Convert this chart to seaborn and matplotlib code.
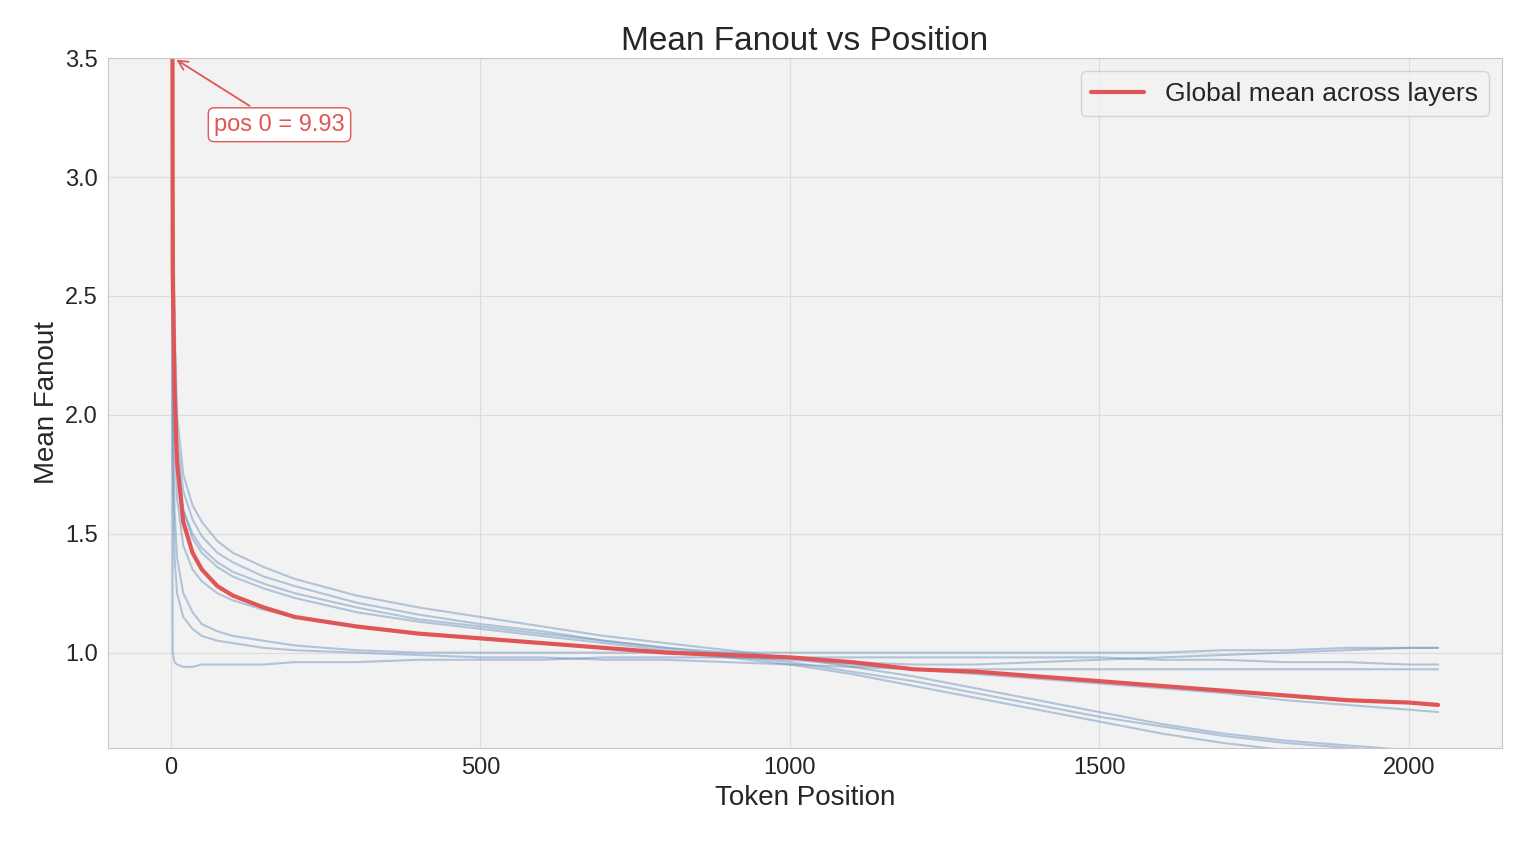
import numpy as np
import matplotlib.pyplot as plt
import seaborn as sns

# values at sample positions
positions = [0, 3, 6, 10, 20, 35, 50, 75, 100, 150, 200, 300, 400, 500, 600, 700, 800, 900,
             1000, 1100, 1200, 1300, 1400, 1500, 1600, 1700, 1800, 1900, 2000, 2047]

global_mean = [9.93, 2.6, 2.1, 1.8, 1.55, 1.42, 1.35, 1.28, 1.24, 1.19, 1.15, 1.11, 1.08, 1.06,
               1.04, 1.02, 1.00, 0.99, 0.98, 0.96, 0.93, 0.92, 0.90, 0.88, 0.86, 0.84, 0.82,
               0.80, 0.79, 0.78]

layer_values = {
    "L0": [9.0, 1.0, 0.96, 0.95, 0.94, 0.94, 0.95, 0.95, 0.95, 0.95, 0.96, 0.96, 0.97, 0.97,
           0.97, 0.98, 0.98, 0.98, 0.98, 0.98, 0.98, 0.98, 0.98, 0.98, 0.97, 0.97, 0.96,
           0.96, 0.95, 0.95],
    "L1": [10.0, 2.0, 1.6, 1.4, 1.25, 1.17, 1.12, 1.09, 1.07, 1.05, 1.03, 1.01, 1.00, 1.00,
           1.00, 1.00, 1.00, 1.00, 1.00, 1.00, 1.00, 1.00, 1.00, 1.00, 1.00, 1.01, 1.01,
           1.02, 1.02, 1.02],
    "L2": [10.0, 3.2, 2.4, 2.0, 1.75, 1.62, 1.55, 1.47, 1.42, 1.36, 1.31, 1.24, 1.19, 1.15,
           1.11, 1.07, 1.04, 1.01, 0.98, 0.94, 0.90, 0.85, 0.80, 0.75, 0.70, 0.66, 0.63,
           0.61, 0.59, 0.58],
    "L3": [10.0, 3.0, 2.3, 1.9, 1.68, 1.56, 1.49, 1.42, 1.38, 1.32, 1.28, 1.21, 1.16, 1.12,
           1.09, 1.05, 1.02, 0.99, 0.96, 0.92, 0.88, 0.83, 0.78, 0.73, 0.69, 0.65, 0.62,
           0.60, 0.58, 0.57],
    "L4": [10.0, 2.7, 2.1, 1.8, 1.6, 1.5, 1.44, 1.38, 1.34, 1.29, 1.25, 1.19, 1.14, 1.11,
           1.08, 1.05, 1.02, 1.00, 0.98, 0.96, 0.95, 0.95, 0.96, 0.97, 0.98, 0.99, 1.00,
           1.01, 1.02, 1.02],
    "L5": [10.0, 2.5, 1.9, 1.65, 1.45, 1.35, 1.3, 1.25, 1.22, 1.18, 1.15, 1.11, 1.08, 1.06,
           1.04, 1.02, 1.00, 0.98, 0.97, 0.95, 0.93, 0.91, 0.89, 0.87, 0.85, 0.83, 0.80,
           0.78, 0.76, 0.75],
    "L6": [10.0, 1.8, 1.4, 1.25, 1.15, 1.1, 1.07, 1.05, 1.04, 1.02, 1.01, 1.00, 0.99, 0.98,
           0.98, 0.97, 0.97, 0.96, 0.95, 0.94, 0.93, 0.93, 0.93, 0.93, 0.93, 0.93, 0.93,
           0.93, 0.93, 0.93],
    "L7": [10.0, 3.0, 2.2, 1.85, 1.6, 1.48, 1.42, 1.36, 1.32, 1.27, 1.23, 1.17, 1.13, 1.10,
           1.07, 1.04, 1.01, 0.98, 0.95, 0.91, 0.86, 0.81, 0.76, 0.71, 0.66, 0.62, 0.59,
           0.56, 0.54, 0.53],
}

sns.set_style("whitegrid", {"axes.facecolor": "#f2f2f2", "grid.color": "#dcdcdc",
                            "axes.edgecolor": "#c8c8c8"})
plt.rcParams['font.family'] = ['Arial', 'Liberation Sans', 'DejaVu Sans']

fig, ax = plt.subplots(figsize=(15.17, 8.43), dpi=100)
fig.subplots_adjust(left=0.071, right=0.99, top=0.931, bottom=0.113)

for name, vals in layer_values.items():
    sns.lineplot(x=positions, y=vals, ax=ax, color="#6f96c0", alpha=0.5, linewidth=1.5)

sns.lineplot(x=positions, y=global_mean, ax=ax, color="#e05555", linewidth=3,
             label="Global mean across layers")

ax.set_ylim(0.6, 3.5)
ax.set_xlim(-102, 2150)
ax.set_xticks([0, 500, 1000, 1500, 2000])
ax.set_title("Mean Fanout vs Position", fontsize=24)
ax.set_xlabel("Token Position", fontsize=20)
ax.set_ylabel("Mean Fanout", fontsize=20)
ax.tick_params(labelsize=17)

ax.annotate(f"pos 0 = {global_mean[0]:.2f}", xy=(positions[0] + 5, 3.5), xytext=(70, 3.22),
            fontsize=17, color="#e05555", va="center",
            bbox=dict(boxstyle="round,pad=0.25", fc="white", ec="#e05555"),
            arrowprops=dict(arrowstyle="->", color="#e05555", lw=1.3))

leg = ax.legend(loc="upper right", fontsize=19, frameon=True)
leg.get_frame().set_facecolor("#f2f2f2")

plt.savefig("out.png", dpi=100)
